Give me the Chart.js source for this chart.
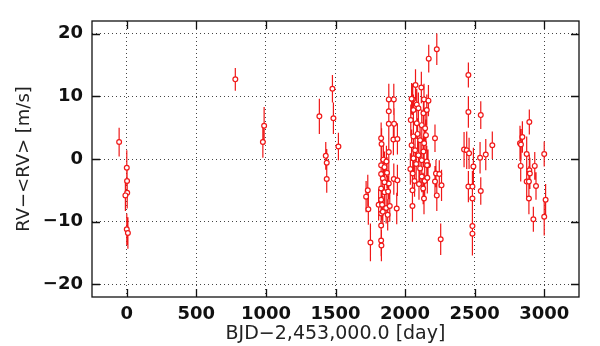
<!DOCTYPE html>
<html>
<head>
<meta charset="utf-8">
<script src="https://cdn.jsdelivr.net/npm/chart.js@4.4.0/dist/chart.umd.min.js"></script>
<style>
html,body{margin:0;padding:0;background:#fff;}
#wrap{width:600px;height:346px;position:relative;}
</style>
</head>
<body>
<div id="wrap"><canvas id="c" width="600" height="346"></canvas></div>
<script>
// ---- data ----
const bjd = [
  -55, 0, 2, 3, -10, 0, 8,
  780, 987, 978,
  1384, 1478, 1485, 1521, 1430, 1437, 1437,
  1720, 1732, 1736, 1751, 1828, 1831, 1828, 1828, 1830, 1883, 1919, 1883, 1883, 1921,
  1916, 1945, 1883, 1844, 1866, 1828, 1852, 1828, 1840, 1919, 1945, 1883, 1828, 1852,
  1810, 1834, 1864, 1890, 1940, 1828, 1840, 1878, 1870, 1852, 1828, 1835, 1875,
  2228, 2170, 2075, 2117, 2055, 2047, 2136, 2168, 2084, 2060, 2096, 2132, 2156, 2041,
  2084, 2120, 2144, 2215, 2060, 2108, 2137, 2047, 2072, 2132, 2096, 2060, 2120, 2156,
  2038, 2108, 2165, 2055, 2120, 2222, 2246, 2215, 2262, 2053, 2130, 2228, 2053, 2136,
  2256, 2158, 2141, 2090, 2150, 2100, 2080, 2160, 2068,
  2455, 2455, 2544, 2424, 2443, 2460, 2627, 2580, 2539, 2491, 2455, 2484, 2544, 2484, 2484, 2484,
  2893, 2843, 2826, 2833, 2874, 3000, 2831, 2932, 2893, 2897, 2874, 2890, 2941, 2890, 3010, 2922, 3000
];
const rv = [
  2.7, -1.4, -3.5, -5.4, -5.8, -11.2, -11.8,
  12.7, 5.3, 2.7,
  6.8, 11.2, 6.5, 2.0, 0.5, -0.6, -3.2,
  -6.0, -5.0, -8.0, -13.3, 3.3, 2.4, -10.6, -13.0, -13.8, 9.5, 9.5, 7.6, 5.6, 5.6,
  3.1, 3.2, 1.1, -0.1, -0.4, -1.0, -1.3, -2.4, -3.1, -3.2, -3.4, -3.9, -4.7, -5.3,
  -7.3, -6.9, -7.8, -7.5, -7.9, -8.7, -8.4, -5.2, -2.2, -3.7, -6.5, -7.3, -8.9,
  17.5, 16.0, 11.8, 11.4, 9.5, 9.6, 9.5, 9.3, 8.7, 7.8, 8.1, 7.3, 7.8, 6.2,
  5.7, 5.4, 4.9, 3.3, 3.6, 3.0, 2.5, 2.2, 1.4, 1.2, 0.6, 0.1, -0.2, -0.4,
  -1.6, -1.5, -1.0, -2.3, -2.8, -2.3, -2.4, -3.6, -4.2, -5.0, -4.7, -5.8, -7.5, -6.3,
  -12.8, -1.0, -3.5, 4.0, 3.8, -4.0, -0.8, -3.0, -3.5,
  13.4, 7.5, 7.0, 1.5, 1.4, 0.9, 2.2, 0.7, 0.2, -1.2, -4.4, -4.4, -5.1, -6.3, -10.7, -11.9,
  5.9, 3.5, 2.5, 2.3, 0.8, 0.8, -1.1, -1.1, -1.8, -2.3, -3.6, -3.6, -4.3, -6.3, -6.5, -9.6, -9.2
];
const rvErr = [
  2.3, 2.8, 2.5, 2.5, 2.5, 2.5, 2.5,
  1.8, 3.0, 2.5,
  2.8, 2.2, 2.5, 2.2, 2.2, 2.2, 2.2,
  2.5, 2.5, 2.5, 3.0, 2.5, 2.5, 2.5, 2.5, 2.5, 2.5, 2.5, 2.5, 2.5, 2.5,
  2.5, 2.5, 2.5, 2.5, 2.5, 2.5, 2.5, 2.5, 2.5, 2.5, 2.5, 2.5, 2.5, 2.5,
  2.5, 2.5, 2.5, 2.5, 2.5, 2.5, 2.5, 2.5, 2.5, 2.5, 2.5, 2.5, 2.5,
  2.5, 2.2, 2.5, 2.5, 2.5, 2.5, 2.5, 2.5, 2.5, 2.5, 2.5, 2.5, 2.5, 2.5,
  2.5, 2.5, 2.5, 2.2, 2.5, 2.5, 2.5, 2.5, 2.5, 2.5, 2.5, 2.5, 2.5, 2.5,
  2.5, 2.5, 2.5, 2.5, 2.5, 2.2, 2.2, 2.5, 2.5, 2.5, 2.5, 2.5, 2.5, 2.5,
  2.5, 2.5, 2.5, 2.5, 2.5, 2.5, 2.5, 2.5, 2.5,
  2.0, 2.5, 2.2, 2.8, 3.0, 2.5, 2.2, 2.5, 2.5, 3.0, 2.5, 2.5, 2.2, 3.0, 3.0, 3.5,
  2.0, 2.5, 2.8, 2.5, 2.8, 2.0, 2.5, 2.2, 2.5, 2.5, 2.5, 2.5, 2.2, 2.5, 2.5, 2.0, 3.0
];
const xTicks = [0, 500, 1000, 1500, 2000, 2500, 3000];
const yTicks = [-20, -10, 0, 10, 20];
const xTitle = 'BJD\u22122,453,000.0 [day]';
const yTitle = 'RV\u2212<RV> [m/s]';

// ---- build datasets ----
const points = bjd.map((x, i) => ({x: x, y: rv[i]}));
const bars = [];
bjd.forEach((x, i) => {
  bars.push({x: x, y: rv[i] - rvErr[i]});
  bars.push({x: x, y: rv[i] + rvErr[i]});
  bars.push({x: x, y: null});
});

const RED = '#f01818';
const FONT = "'DejaVu Sans', sans-serif";
const fmt = v => (v < 0 ? '\u2212' + Math.abs(v) : String(v));

const frameTicks = {
  id: 'frameTicks',
  afterDraw(chart) {
    const {ctx, chartArea: a, scales: {x, y}} = chart;
    const L = 8;
    ctx.save();
    ctx.strokeStyle = '#111';
    ctx.lineWidth = 1.3;
    ctx.strokeRect(a.left, a.top, a.right - a.left, a.bottom - a.top);
    ctx.beginPath();
    x.ticks.forEach(t => {
      const p = Math.round(x.getPixelForValue(t.value)) + 0.5;
      ctx.moveTo(p, a.bottom); ctx.lineTo(p, a.bottom - L);
      ctx.moveTo(p, a.top); ctx.lineTo(p, a.top + L);
    });
    y.ticks.forEach(t => {
      const p = Math.round(y.getPixelForValue(t.value)) + 0.5;
      ctx.moveTo(a.left, p); ctx.lineTo(a.left + L, p);
      ctx.moveTo(a.right, p); ctx.lineTo(a.right - L, p);
    });
    ctx.stroke();
    ctx.restore();
  }
};

new Chart(document.getElementById('c'), {
  type: 'scatter',
  data: {
    datasets: [
      {
        data: bars,
        showLine: true,
        spanGaps: false,
        borderColor: RED,
        borderWidth: 1.2,
        pointRadius: 0,
        pointHoverRadius: 0,
        order: 2
      },
      {
        data: points,
        pointStyle: 'circle',
        pointRadius: 2.4,
        pointBorderWidth: 1.2,
        pointBorderColor: RED,
        pointBackgroundColor: '#ffffff',
        order: 1
      }
    ]
  },
  options: {
    responsive: false,
    animation: false,
    events: [],
    layout: {padding: {top: 21, right: 21, left: 0, bottom: 0}},
    plugins: {legend: {display: false}, tooltip: {enabled: false}},
    scales: {
      x: {
        type: 'linear',
        min: -250, max: 3250,
        afterBuildTicks: s => { s.ticks = xTicks.map(v => ({value: v})); },
        afterFit: s => { s.height = 49; },
        grid: {color: '#444', lineWidth: 1, drawTicks: false},
        border: {display: false, dash: [1, 3]},
        ticks: {color: '#111', padding: 7, font: {family: FONT, size: 18, weight: 'bold'}, callback: fmt, maxRotation: 0},
        title: {display: true, text: xTitle, color: '#222', font: {family: FONT, size: 19}, padding: {top: 0, bottom: 1}}
      },
      y: {
        type: 'linear',
        min: -22, max: 22,
        afterBuildTicks: s => { s.ticks = yTicks.map(v => ({value: v})); },
        afterFit: s => { s.width = 92; },
        grid: {color: '#444', lineWidth: 1, drawTicks: false},
        border: {display: false, dash: [1, 3]},
        ticks: {color: '#111', padding: 9, font: {family: FONT, size: 18, weight: 'bold'}, callback: fmt},
        title: {display: true, text: yTitle, color: '#222', font: {family: FONT, size: 18}, padding: {top: 14, bottom: 0}}
      }
    }
  },
  plugins: [frameTicks]
});
</script>
</body>
</html>
